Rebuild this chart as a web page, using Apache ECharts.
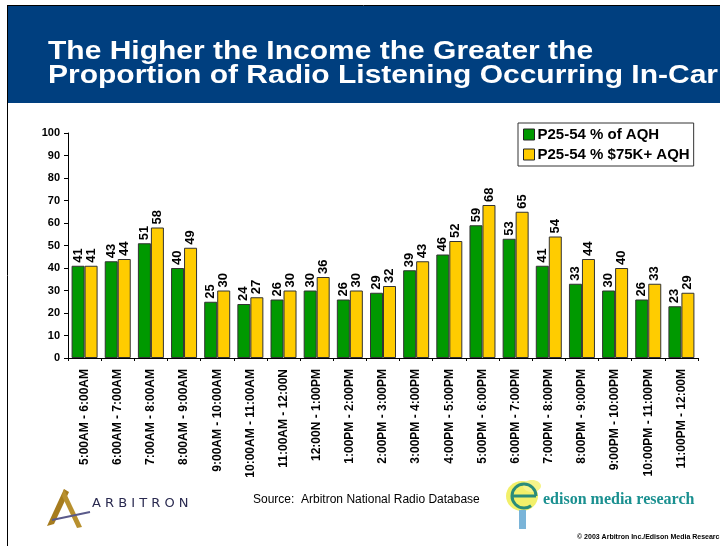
<!DOCTYPE html>
<html>
<head>
<meta charset="utf-8">
<script src="https://cdn.jsdelivr.net/npm/echarts@6/dist/echarts.min.js"></script>
<style>
  html, body { margin: 0; padding: 0; background: #fff; }
  #chart { width: 720px; height: 546px; }
</style>
</head>
<body>
<div id="chart"></div>
<script>
// time slots
var categories = ['5:00AM - 6:00AM', '6:00AM - 7:00AM', '7:00AM - 8:00AM', '8:00AM - 9:00AM',
    '9:00AM - 10:00AM', '10:00AM - 11:00AM', '11:00AM - 12:00N', '12:00N - 1:00PM',
    '1:00PM - 2:00PM', '2:00PM - 3:00PM', '3:00PM - 4:00PM', '4:00PM - 5:00PM',
    '5:00PM - 6:00PM', '6:00PM - 7:00PM', '7:00PM - 8:00PM', '8:00PM - 9:00PM',
    '9:00PM - 10:00PM', '10:00PM - 11:00PM', '11:00PM - 12:00M'];
var allAqh = [41, 43, 51, 40, 25, 24, 26, 30, 26, 29, 39, 46, 59, 53, 41, 33, 30, 26, 23];
var incomeAqh = [41, 44, 58, 49, 30, 27, 30, 36, 30, 32, 43, 52, 68, 65, 54, 44, 40, 33, 29];
var seriesNames = ['P25-54 % of AQH', 'P25-54 % $75K+ AQH'];

var myChart = echarts.init(document.getElementById('chart'));

var labelStyle = {
    show: true,
    position: 'top',
    rotate: 90,
    align: 'left',
    verticalAlign: 'middle',
    distance: 3,
    fontFamily: 'Liberation Sans, Arial',
    fontWeight: 'bold',
    fontSize: 13,
    color: '#000'
};

var option = {
    animation: false,
    backgroundColor: '#fff',
    grid: { left: 68, right: 22, top: 133, bottom: 188, containLabel: false },
    legend: {
        data: seriesNames,
        orient: 'vertical',
        left: 518,
        top: 123,
        icon: 'rect',
        itemWidth: 11,
        itemHeight: 11,
        itemGap: 5,
        padding: [4, 4, 4, 5],
        borderColor: '#333',
        borderWidth: 1,
        itemStyle: { borderColor: '#222', borderWidth: 1 },
        textStyle: { fontFamily: 'Liberation Sans, Arial', fontWeight: 'bold', fontSize: 15, color: '#000', padding: [0, 0, 0, -2] }
    },
    xAxis: {
        type: 'category',
        data: categories,
        axisLine: { lineStyle: { color: '#000', width: 1 } },
        axisTick: { show: true, length: 3, lineStyle: { color: '#000' } },
        axisLabel: {
            rotate: 90,
            interval: 0,
            margin: 11,
            fontFamily: 'Liberation Sans, Arial',
            fontWeight: 'bold',
            fontSize: 12,
            color: '#000'
        }
    },
    yAxis: {
        type: 'value',
        min: 0,
        max: 100,
        interval: 10,
        splitLine: { show: false },
        axisLine: { show: true, lineStyle: { color: '#000' } },
        axisTick: { show: true, length: 4, lineStyle: { color: '#000' } },
        axisLabel: {
            fontFamily: 'Liberation Sans, Arial',
            fontWeight: 'bold',
            fontSize: 11,
            color: '#000',
            margin: 8
        }
    },
    series: [
        {
            name: seriesNames[0],
            type: 'bar',
            data: allAqh,
            barWidth: 13,
            barGap: '0%',
            itemStyle: { color: '#009900', borderColor: '#333', borderWidth: 1 },
            label: labelStyle
        },
        {
            name: seriesNames[1],
            type: 'bar',
            data: incomeAqh,
            barWidth: 13,
            barGap: '0%',
            itemStyle: { color: '#FFCC00', borderColor: '#333', borderWidth: 1 },
            label: labelStyle
        }
    ],
    graphic: [
        // header band
        { type: 'rect', shape: { x: 8, y: 6, width: 712, height: 97 }, style: { fill: '#003F7F' }, z: 0 },
        { type: 'line', shape: { x1: 7.5, y1: 5, x2: 7.5, y2: 546 }, style: { stroke: '#000', lineWidth: 1 } },
        { type: 'line', shape: { x1: 7, y1: 5.5, x2: 720, y2: 5.5 }, style: { stroke: '#000', lineWidth: 1 } },
        { type: 'text', x: 48, y: 40, scaleX: 1.2, style: { text: 'The Higher the Income the Greater the', fill: '#fff', font: 'bold 25px "Liberation Sans", Arial' } },
        { type: 'text', x: 48, y: 64, scaleX: 1.2, style: { text: 'Proportion of Radio Listening Occurring In-Car', fill: '#fff', font: 'bold 25px "Liberation Sans", Arial' } },
        // arbitron logo
        { type: 'polygon', shape: { points: [[47, 526], [64, 489], [69, 492], [54, 524]] }, style: { fill: '#A67C1E' } },
        { type: 'polygon', shape: { points: [[64, 489], [82, 527], [77, 528], [62, 496]] }, style: { fill: '#B8902E' } },
        { type: 'line', shape: { x1: 52, y1: 520, x2: 90, y2: 512 }, style: { stroke: '#5A5A8A', lineWidth: 2 } },
        { type: 'text', x: 92, y: 497, style: { text: 'A R B I T R O N', fill: '#2A2A50', font: '13px "DejaVu Sans", Arial' } },
        // source
        { type: 'text', x: 253, y: 494, style: { text: 'Source:  Arbitron National Radio Database', fill: '#000', font: '12px "Liberation Sans", Arial' } },
        // edison logo
        { type: 'ellipse', shape: { cx: 522, cy: 496, rx: 16, ry: 15 }, style: { fill: '#F2F06A' } },
        { type: 'ellipse', shape: { cx: 532, cy: 486, rx: 9, ry: 6 }, style: { fill: '#F6F48A' } },
        { type: 'arc', shape: { cx: 524, cy: 496, r: 12, startAngle: 0, endAngle: Math.PI * 0.3, clockwise: false }, style: { fill: null, stroke: '#2A8C7A', lineWidth: 3 } },
        { type: 'line', shape: { x1: 512, y1: 496, x2: 536, y2: 496 }, style: { stroke: '#2A8C7A', lineWidth: 3 } },
        { type: 'rect', shape: { x: 519, y: 510, width: 7, height: 19 }, style: { fill: '#7AB4D8' } },
        { type: 'text', x: 543, y: 492, style: { text: 'edison media research', fill: '#1A9090', font: 'bold 16px "Liberation Serif", serif' } },
        { type: 'text', x: 577, y: 534, style: { text: '\u00a9 2003 Arbitron Inc./Edison Media Research', fill: '#000', font: 'bold 7px "Liberation Sans", Arial' } }
    ]
};

if (option && typeof option === 'object') {
    myChart.setOption(option, true);
}
</script>
</body>
</html>
